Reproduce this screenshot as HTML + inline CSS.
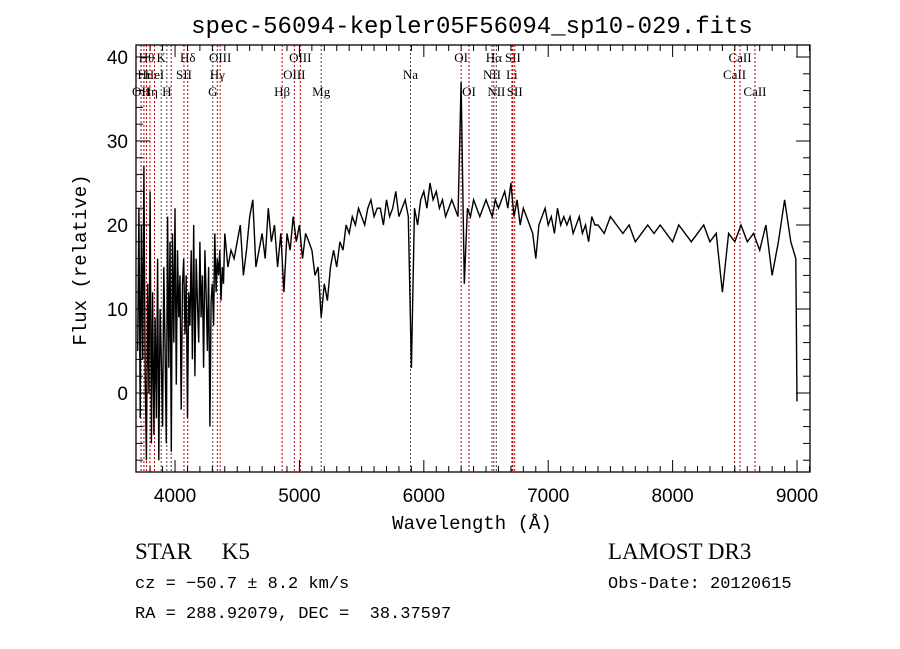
<!DOCTYPE html>
<html><head><meta charset="utf-8"><style>
body{margin:0;background:#fff;}
svg{display:block;}
</style></head><body>
<svg id="chart" width="900" height="649" viewBox="0 0 900 649" font-family="'Liberation Sans', sans-serif">
<rect width="900" height="649" fill="#fff"/>
<text x="472" y="33" font-size="24" text-anchor="middle" font-family="'Liberation Mono', monospace">spec-56094-kepler05F56094_sp10-029.fits</text>
<g id="lines"></g>
<g id="spec"></g>
<g id="axes"></g>
<text x="86" y="260" font-size="19" text-anchor="middle" transform="rotate(-90 86 260)" font-family="'Liberation Mono', monospace">Flux (relative)</text>
<text x="472" y="529" font-size="19" text-anchor="middle" font-family="'Liberation Mono', monospace">Wavelength (Å)</text>
<text x="135" y="559" font-size="23" font-family="'Liberation Serif', serif">STAR <tspan dx="24">K5</tspan></text>
<text x="608" y="559" font-size="23" font-family="'Liberation Serif', serif">LAMOST DR3</text>
<text x="135" y="588" font-size="17" font-family="'Liberation Mono', monospace">cz = −50.7 ± 8.2 km/s</text>
<text x="608" y="588" font-size="17" font-family="'Liberation Mono', monospace">Obs-Date: 20120615</text>
<text x="135" y="618" font-size="17" font-family="'Liberation Mono', monospace">RA = 288.92079, DEC = &#160;38.37597</text>
</svg>
<script>
const wave = [
3700,3710,3720,3730,3740,3750,3760,3770,3780,3790,
3800,3810,3820,3830,3840,3850,3860,3870,3880,3890,
3900,3910,3920,3930,3940,3950,3960,3970,3980,3990,
4000,4010,4020,4030,4040,4050,4060,4070,4080,4090,
4100,4110,4120,4130,4140,4150,4160,4170,4180,4190,
4200,4210,4220,4230,4240,4250,4260,4270,4280,4290,
4300,4310,4320,4330,4340,4350,4360,4370,4380,4390,
4400,4425,4450,4475,4500,4525,4550,4575,4600,4625,
4650,4675,4700,4725,4750,4775,4800,4825,4850,4875,
4900,4925,4950,4975,5000,5025,5050,5075,5100,5125,
5150,5175,5200,5225,5250,5275,5300,5325,5350,5375,
5400,5425,5450,5475,5500,5525,5550,5575,5600,5625,
5650,5675,5700,5725,5750,5775,5800,5825,5850,5875,
5900,5925,5950,5975,6000,6025,6050,6075,6100,6125,
6150,6175,6200,6225,6250,6275,6300,6325,6350,6375,
6400,6425,6450,6475,6500,6525,6550,6575,6600,6625,
6650,6675,6700,6725,6750,6775,6800,6825,6850,6875,
6900,6925,6950,6975,7000,7025,7050,7075,7100,7125,
7150,7175,7200,7225,7250,7275,7300,7325,7350,7375,
7400,7450,7500,7550,7600,7650,7700,7750,7800,7850,
7900,7950,8000,8050,8100,8150,8200,8250,8300,8350,
8400,8450,8500,8550,8600,8650,8700,8750,8800,8850,
8900,8950,8990,9000];
const flux = [
5,22,-3,20,4,27,2,-8,13,0,
24,-6,12,-5,9,-3,16,-8,10,4,
-4,15,5,-6,21,3,18,-7,19,6,
22,1,17,9,14,-2,13,16,7,14,
-3,12,8,17,4,20,2,16,11,6,
18,9,14,3,17,12,5,15,-4,11,
13,8,19,12,16,14,17,11,15,13,
19,15,17,16,18,20,14,17,21,23,
15,17,19,16,22,18,20,15,19,12,
19,17,21,18,20,16,19,18,17,14,
15,9,13,11,15,17,15,18,17,20,
19,21,20,22,21,20,22,23,21,22,
22,20,23,21,22,24,21,22,23,21,
3,22,20,23,24,22,25,23,24,22,
23,21,22,23,22,21,37,13,22,21,
23,22,21,22,23,22,21,23,22,23,
24,22,25,21,23,20,22,21,20,19,
16,20,21,22,20,21,19,22,20,21,
20,21,19,20,21,19,20,18,21,20,
20,19,21,20,19,20,18,19,20,19,
20,19,18,20,19,18,19,20,18,19,
12,19,18,20,18,19,17,20,14,18,
23,18,16,-1];
const lineW = [3727,3750,3771,3798,3835,3889,3934,3969,4072,4102,4304,4340,4363,4861,4959,5007,5175,5893,6300,6363,6548,6563,6583,6708,6716,6731,8498,8542,8662];
const lineLbl = ['OII','Hι','Hθ','Hη','HeI','K','H','','SII','Hδ','G','Hγ','OIII','Hβ','OIII','OIII','Mg','Na','OI','OI','NII','Hα','NII','Li','SII','SII','CaII','CaII','CaII'];
const lineRow = [2,1,0,2,1,0,2,2,1,0,2,1,0,2,1,0,2,1,0,2,1,0,2,1,0,2,1,0,2];
const lineColor = ['r','r','r','r','r','k','k','r','r','r','k','r','r','r','r','r','k','k','r','r','k','r','k','r','r','r','r','r','r'];
const yTicks = [0,10,20,30,40];
const xTicks = [4000,5000,6000,7000,8000,9000];

const X0=137.7, XL=136, XR=810, YT=45, YB=472;
const xs = w => X0 + (w-3700)*0.1244;
const ys = f => 393 - f*8.4;
const NS='http://www.w3.org/2000/svg';
function mk(tag, attrs, parent){const e=document.createElementNS(NS,tag);for(const k in attrs)e.setAttribute(k,attrs[k]);parent.appendChild(e);return e;}

const lg=document.getElementById('lines');
lineW.forEach((w,i)=>{
  const x=xs(w);
  const l=mk('line',{x1:x,x2:x,y1:YT,y2:YB,stroke:lineColor[i]==='r'?'#c00000':'#444','stroke-width':1,'stroke-dasharray':'2,2'},lg);
  
  
  if(lineLbl[i]){
    const t=mk('text',{x:x,y:62+lineRow[i]*17,'font-size':13,'text-anchor':'middle','font-family':"'Liberation Serif', serif"},lg);
    t.textContent=lineLbl[i];
    
    
  }
});

const sg=document.getElementById('spec');
let d='';
const n=Math.min(wave.length,flux.length);
for(let i=0;i<n;i++){d+=(i?'L':'M')+xs(wave[i]).toFixed(1)+','+ys(flux[i]).toFixed(1);}
const p=mk('path',{d:d,fill:'none',stroke:'#000','stroke-width':1.4,'stroke-linejoin':'miter'},sg);



const ag=document.getElementById('axes');
const fr=mk('rect',{x:XL,y:YT,width:XR-XL,height:YB-YT,fill:'none',stroke:'#000','stroke-width':1.3},ag);


for(let w=3800;w<=9100;w+=100){
  const x=xs(w), major=w%1000===0, len=major?12:6;
  mk('line',{x1:x,x2:x,y1:YB,y2:YB-len,stroke:'#000'},ag);
  mk('line',{x1:x,x2:x,y1:YT,y2:YT+len,stroke:'#000'},ag);
}
xTicks.forEach(w=>{
  const t=mk('text',{x:xs(w),y:502,'font-size':19,'text-anchor':'middle'},ag);
  t.textContent=w;
  
  
});
for(let f=-8;f<=40;f+=2){
  const y=ys(f), major=f%10===0, len=major?14:7;
  mk('line',{x1:XL,x2:XL+len,y1:y,y2:y,stroke:'#000'},ag);
  mk('line',{x1:XR,x2:XR-len,y1:y,y2:y,stroke:'#000'},ag);
}
yTicks.forEach(f=>{
  const t=mk('text',{x:128,y:ys(f)+7,'font-size':19,'text-anchor':'end'},ag);
  t.textContent=f;
  
  
});
</script>
</body></html>
